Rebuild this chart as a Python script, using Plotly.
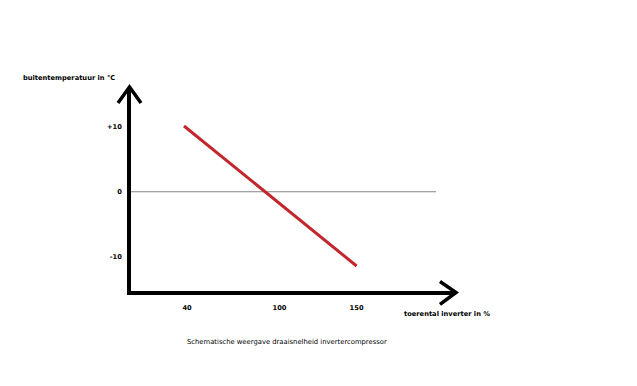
import plotly.graph_objects as go

# Data (schematic)
speed_pct = [38, 150]            # toerental inverter in %
outdoor_temp = [10.1, -11.4]     # buitentemperatuur in °C
x_tick_vals = [40, 100, 150]
x_tick_text = ["40", "100", "150"]
y_tick_vals = [10, 0, -10]
y_tick_text = ["+10", "0", "-10"]
zero_line_end = 201.5

W, H = 637, 386
L, R, T, B = 131, 637 - 456, 88, 386 - 291.5
X_RANGE = [3.6, 214.5]
Y_RANGE = [-15.24, 15.93]

pw, ph = W - L - R, H - T - B


def px(x):
    return (x - L) / pw


def py(y):
    return (H - B - y) / ph


fig = go.Figure()
fig.add_trace(go.Scatter(x=[X_RANGE[0], zero_line_end], y=[0, 0], mode="lines",
                         line=dict(color="#858585", width=1), hoverinfo="skip"))
fig.add_trace(go.Scatter(x=speed_pct, y=outdoor_temp, mode="lines",
                         line=dict(color="#c1272d", width=3), hoverinfo="skip"))

font_b = dict(family="DejaVu Sans", size=6.7, color="black", weight="bold")

fig.update_layout(
    width=W, height=H, margin=dict(l=L, r=R, t=T, b=B),
    paper_bgcolor="white", plot_bgcolor="white", showlegend=False,
    xaxis=dict(range=X_RANGE, showgrid=False, zeroline=False, showline=True,
               linecolor="black", linewidth=3.5, tickvals=x_tick_vals,
               ticktext=x_tick_text, ticks="outside", ticklen=7,
               tickcolor="rgba(0,0,0,0)", tickfont=font_b, fixedrange=True),
    yaxis=dict(range=Y_RANGE, showgrid=False, zeroline=False, showline=True,
               linecolor="black", linewidth=3.5, tickvals=y_tick_vals,
               ticktext=y_tick_text, ticks="outside", ticklen=4,
               tickcolor="rgba(0,0,0,0)", tickfont=font_b, fixedrange=True),
)

# arrow chevrons
chev = dict(type="path", xref="paper", yref="paper",
            line=dict(color="black", width=3.5))
fig.add_shape(path=f"M {px(118)} {py(103)} L {px(129.5)} {py(87)} L {px(141)} {py(103)}", **chev)
fig.add_shape(path=f"M {px(440)} {py(282)} L {px(456)} {py(293)} L {px(440)} {py(305)}", **chev)

ann = dict(xref="paper", yref="paper", showarrow=False, xanchor="center", yanchor="middle")
fig.add_annotation(text="buitentemperatuur in °C", x=px(69), y=py(78), font=font_b, **ann)
fig.add_annotation(text="toerental inverter in %", x=px(447), y=py(315), font=font_b, **ann)
fig.add_annotation(text="Schematische weergave draaisnelheid invertercompressor",
                   x=px(286.5), y=py(343),
                   font=dict(family="DejaVu Sans", size=6.8, color="black"), **ann)

fig.write_html("out.html", config={"displayModeBar": False})

# remove default page margin so the figure sits at the window's top-left
with open("out.html", encoding="utf-8") as f:
    html = f.read()
html = html.replace("<head>", "<head><style>html,body{margin:0;padding:0;overflow:hidden}</style>", 1)
with open("out.html", "w", encoding="utf-8") as f:
    f.write(html)
